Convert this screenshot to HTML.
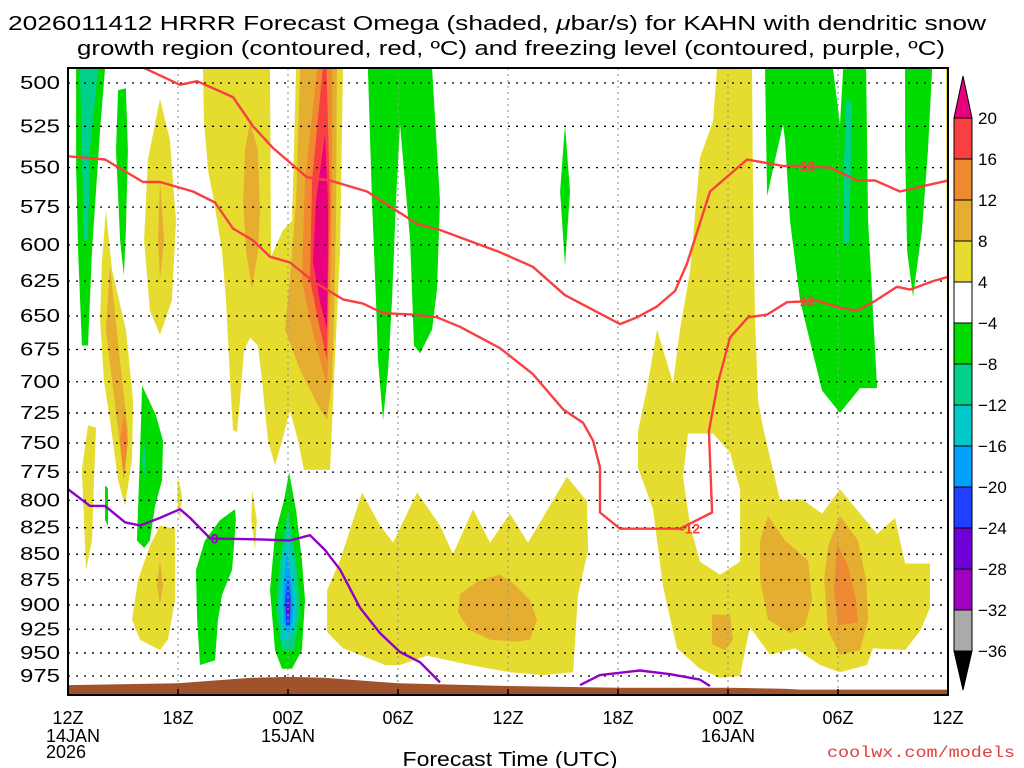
<!DOCTYPE html>
<html><head><meta charset="utf-8"><style>
html,body{margin:0;padding:0;background:#fff;}
svg{display:block;font-family:"Liberation Sans",sans-serif;}
</style></head><body>
<svg id="chart" width="1024" height="768" viewBox="0 0 1024 768" xmlns="http://www.w3.org/2000/svg">
<defs><clipPath id="plotclip"><rect x="68" y="68" width="880" height="627"/></clipPath></defs>
<g>
<text x="8" y="30" font-size="20" textLength="978" lengthAdjust="spacingAndGlyphs">2026011412 HRRR Forecast Omega (shaded, <tspan font-style="italic">μ</tspan>bar/s) for KAHN with dendritic snow</text>
<text x="77" y="55" font-size="20" textLength="868" lengthAdjust="spacingAndGlyphs">growth region (contoured, red, ºC) and freezing level (contoured, purple, ºC)</text>
</g>
<rect x="68" y="68" width="880" height="627" fill="#fff"/>
<g id="shading" clip-path="url(#plotclip)"></g>
<g id="grid"></g>
<g id="lines" clip-path="url(#plotclip)"></g>
<g id="ground" clip-path="url(#plotclip)"></g>
<rect x="68" y="68" width="880" height="627" fill="none" stroke="#000" stroke-width="2"/>
<g id="yaxis"></g>
<g id="xaxis"></g>
<text x="510" y="766" font-size="20" text-anchor="middle" textLength="215" lengthAdjust="spacingAndGlyphs">Forecast Time (UTC)</text>
<text x="827" y="757" font-size="16" fill="#e04040" textLength="188" lengthAdjust="spacingAndGlyphs" font-family="Liberation Mono, monospace">coolwx.com/models</text>
<g id="cbar"></g>
</svg>
<script>
const NS='http://www.w3.org/2000/svg';
// ---- data ----
const yLevels=[500,525,550,575,600,625,650,675,700,725,750,775,800,825,850,875,900,925,950,975];
const xTickHours=[0,6,12,18,24,30,36,42,48];
const xTickLabels=['12Z','18Z','00Z','06Z','12Z','18Z','00Z','06Z','12Z'];
const dateLabels=[[0,'14JAN'],[12,'15JAN'],[36,'16JAN']];
const cbarLevels=['20','16','12','8','4','-4','-8','-12','-16','-20','-24','-28','-32','-36'];
const cbarColors=['#f84040','#f08a30','#e6ae30','#e6dc30','#ffffff','#00dc00','#00d08a','#00c8c8','#00a0ff','#2040ff','#7000d8','#a000c0','#aaaaaa'];
const COL={Y:'#e6dc30',T:'#e6ae30',O:'#f08a30',R:'#f84040',M:'#e8007f',G:'#00dc00',TG:'#00d08a',C:'#00c8c8',LB:'#00a0ff',B:'#2040ff',P:'#7000d8',W:'#ffffff'};
// shaded omega regions: [colour class, [[hour, hPa], ...]]
const shadedRegions=[
 ['Y',[[7.36,492],[11.02,492],[11.07,608],[11.73,590],[12.22,584],[12.44,492],[15,492],[14.84,604],[14.56,683],[14.29,773],[12.87,773],[12.55,748],[12.11,723],[11.67,748],[11.29,769],[10.91,748],[10.58,699],[10.36,672],[9.93,666],[9.6,676],[9.38,715],[9.22,741],[9,739],[8.84,699],[8.62,639],[8.4,604],[7.96,571],[7.64,552],[7.42,522]]],
 ['Y',[[5.02,509],[5.56,533],[5.89,584],[5.67,639],[5.02,664],[4.47,646],[4.15,597],[4.36,545]]],
 ['Y',[[2.07,577],[2.4,617],[3.16,660],[3.55,715],[3.49,764],[3.11,805],[2.73,782],[2.29,731],[1.96,699],[1.75,653],[1.85,612]]],
 ['Y',[[1.09,735],[1.53,737],[1.42,782],[1.31,837],[0.98,865],[0.87,818],[0.76,773]]],
 ['Y',[[5.02,823],[5.84,826],[5.84,895],[5.45,936],[5.02,947],[3.93,936],[3.49,915],[3.82,875],[4.47,842]]],
 ['Y',[[6,779],[6.22,796],[6.11,818],[5.95,800]]],
 ['Y',[[10.04,791],[10.3,818],[10.2,846],[10.0,818]]],
 ['Y',[[14.13,885],[14.84,856],[16.04,793],[17.02,823],[17.73,839],[19.04,793],[20.29,823],[21,850],[22.09,808],[23.02,839],[24.11,812],[25.09,839],[27.22,779],[28.31,801],[28.37,846],[27.82,890],[27.55,971],[25.91,974],[24.11,971],[21.93,963],[19.58,953],[18.11,963],[17.29,963],[15,945],[14.13,928]]],
 ['Y',[[35.4,492],[37.31,492],[37.37,571],[37.48,653],[37.64,715],[37.91,737],[38.84,800],[40.04,799],[41.13,812],[42.11,790],[44.13,831],[45.11,816],[45.66,859],[47.02,859],[47.02,903],[46.47,927],[45.66,947],[43.91,945],[43.58,963],[42.11,971],[41.02,963],[39.66,945],[38.29,952],[37.2,923],[36.93,947],[36.66,975],[35.56,977],[34.47,967],[33.22,945],[32.46,882],[31.91,808],[31.09,771],[31.09,740],[31.58,705],[32.13,660],[33,701],[33.38,660],[33.93,618],[34.47,544],[35.18,522]]],
 ['W',[[33.82,742],[35.18,742],[36.11,758],[36.66,790],[36.66,857],[35.56,870],[34.47,857],[33.93,823],[33.55,779]]],
 ['Y',[[47.89,492],[48.1,492],[48.1,653],[47.95,676]]],
 ['T',[[9.93,522],[10.36,539],[10.47,577],[10.36,604],[10.04,631],[9.71,604],[9.55,571],[9.66,539]]],
 ['T',[[5.02,558],[5.24,597],[5.02,624],[4.91,597]]],
 ['T',[[2.29,614],[2.95,699],[3.27,739],[3.05,782],[2.73,739],[2.4,699],[2.07,660]]],
 ['T',[[5.02,856],[5.18,880],[5.02,900],[4.85,880]]],
 ['T',[[12.66,492],[14.67,492],[14.62,584],[14.51,653],[14.4,699],[14.13,731],[13.64,719],[12.66,691],[11.84,660],[12.11,622],[12.44,571]]],
 ['T',[[21.38,889],[22.47,875],[23.57,870],[24.38,880],[25.2,895],[25.58,915],[25.2,936],[24.38,938],[23.02,936],[21.93,926],[21.27,908]]],
 ['T',[[35.13,910],[36.11,910],[36.28,936],[35.84,947],[35.13,941]]],
 ['T',[[38.18,814],[39.11,837],[40.37,856],[40.58,895],[40.2,921],[39.38,929],[38.18,915],[37.75,875],[37.75,837]]],
 ['T',[[42.11,814],[43.09,837],[43.53,875],[43.64,915],[43.2,947],[42.11,952],[41.46,926],[41.24,875],[41.46,842]]],
 ['O',[[3.05,725],[3.27,748],[3.05,782],[2.84,748]]],
 ['O',[[13.6,492],[14.4,492],[14.4,571],[14.29,639],[14.13,703],[13.75,683],[13.2,653],[12.76,624],[12.93,558]]],
 ['O',[[41.95,840],[42.55,861],[42.98,895],[43.09,918],[42,921],[41.78,885]]],
 ['R',[[13.9,492],[14.1,492],[14.29,571],[14.18,631],[14.13,683],[13.64,653],[13.2,624],[13.31,558]]],
 ['M',[[14.02,530],[14.18,571],[14.18,597],[14.13,660],[13.75,640],[13.36,611],[13.53,571]]],
 ['G',[[0.44,492],[2.02,492],[1.75,527],[1.31,604],[1.09,672],[0.76,672],[0.55,604],[0.44,549]]],
 ['TG',[[0.65,492],[1.64,492],[1.2,539],[1.09,597],[0.87,597],[0.76,539]]],
 ['G',[[2.73,504],[3.16,503],[3.27,539],[3.16,590],[3.05,621],[2.84,597],[2.62,539]]],
 ['G',[[4.04,703],[4.8,727],[5.18,748],[5.13,782],[4.75,805],[4.47,837],[4.15,844],[3.76,837],[3.93,756]]],
 ['TG',[[4.15,748],[4.25,764],[4.15,782],[4.04,764]]],
 ['G',[[2.02,787],[2.18,789],[2.18,823],[2.02,818]]],
 ['G',[[16.36,492],[19.86,492],[20.29,571],[20.13,631],[19.86,660],[19.2,678],[18.87,672],[18.66,597],[18.11,524],[17.89,571],[17.67,639],[17.46,691],[17.18,731],[16.91,683],[16.8,639],[16.58,571]]],
 ['G',[[9.11,808],[9.16,818],[8.95,865],[8.4,890],[8.18,915],[8.02,958],[7.2,963],[7.04,915],[6.98,865],[7.47,837],[8.29,818]]],
 ['G',[[12.06,775],[12.44,809],[12.76,856],[12.93,895],[12.76,947],[12.22,967],[11.67,967],[11.29,947],[11.02,885],[11.29,831],[11.78,800]]],
 ['TG',[[12,809],[12.44,856],[12.66,905],[12.33,947],[11.67,947],[11.35,905],[11.56,856]]],
 ['C',[[12,826],[12.33,865],[12.44,915],[12.11,936],[11.67,936],[11.56,895],[11.73,856]]],
 ['LB',[[11.95,846],[12.22,885],[12.27,915],[12,931],[11.73,915],[11.78,875]]],
 ['B',[[12,870],[12.16,895],[12.11,921],[11.89,921],[11.84,895]]],
 ['P',[[12,894],[12.11,905],[12,914],[11.89,905]]],
 ['G',[[27.11,524],[27.38,565],[27.11,614],[26.84,565]]],
 ['G',[[38.02,492],[41.73,492],[42.11,524],[42.28,492],[43.53,492],[43.64,584],[44.13,705],[43.2,705],[42.11,725],[41.13,707],[39.93,639],[39.38,584],[39.11,533],[39,524],[38.57,545],[38.13,568]]],
 ['TG',[[42.44,510],[42.77,510],[42.71,544],[42.6,599],[42.28,599],[42.33,544]]],
 ['G',[[45.66,492],[47.13,492],[46.91,539],[46.58,590],[46.09,636],[45.77,604],[45.66,539]]]
];
// contour lines
const dgzTopHours=[3.82,6.11,7.04,9,10.09,11.18,13.04,14.29,16.31,19.04,20.29,23.57,25.36,27.11,30.11,31.04,32.13,33.11,33.76,35.02,37.04,39,40.2,41.56,43.04,44.02,45.38,46.47,48];
const dgzTopHpa=[490,501,499,508,525,538,556,558,565,586,590,605,615,635,656,651,643,632,613,565,545,549,549,550,558,558,565,562,558];
const dgzBotHours=[0,2.02,4.09,5.02,6.82,8.02,9,10.09,11.02,12.11,13.36,15,16.09,17.18,18.82,20.13,21.38,23.57,25.36,27,28.09,28.64,29.02,29.02,30.11,33.38,35.13,34.96,35.45,36.11,37.09,38.13,39.22,40.86,42.11,43.04,43.91,45.22,45.93,47.18,48];
const dgzBotHpa=[543,545,559,559,565,572,589,597,608,612,625,638,641,648,649,651,658,674,694,722,733,748,771,811,826,826,811,740,701,666,651,649,640,639,644,646,640,629,631,625,622];
const frzHours=[0,1.2,2.02,3.11,3.93,5.02,6.11,6.66,7.75,10.47,12.11,13.2,14.02,14.84,15.93,17.02,18.11,19.2,20.29];
const frzHpa=[790,805,805,820,823,816,808,816,835,836,837,832,846,865,903,929,949,960,982];
const frz2Hours=[27.93,29.02,31.2,32.84,34.47,35.02];
const frz2Hpa=[985,974,969,973,979,986];
const groundHours=[0,6,10,12,14,18,24,30,36,39,40,48];
const groundHpa=[985,983,977,976,977,983,986,988,988,989,990,990];
const contourLabels=[['-18',40.2,549,'#f84040'],['-12',33.93,826,'#f84040'],['-12',40.2,639,'#f84040'],['0',8.0,835,'#9000c8']];
// ---- axes (log-pressure vertical) ----
const X=h=>68+h*110/6;
const Y=p=>83+Math.log(p/500)/Math.log(975/500)*593;
function mk(tag,attrs,parent){const e=document.createElementNS(NS,tag);for(const k in attrs)e.setAttribute(k,attrs[k]);parent.appendChild(e);return e;}
const shading=document.getElementById('shading');
shadedRegions.forEach((r,i)=>{
 const e=mk('polygon',{points:r[1].map(q=>X(q[0]).toFixed(1)+','+Y(q[1]).toFixed(1)).join(' '),fill:COL[r[0]]},shading);
 
 
});
const grid=document.getElementById('grid');
yLevels.forEach(p=>{
 const e=mk('line',{x1:68,x2:948,y1:Y(p),y2:Y(p),stroke:'#000','stroke-width':1.3,'stroke-dasharray':'2 6'},grid);
 
 
});
xTickHours.slice(1,-1).forEach(h=>{
 const e=mk('line',{x1:X(h),x2:X(h),y1:68,y2:695,stroke:'#999','stroke-width':1.2,'stroke-dasharray':'2 4'},grid);
 
 
});
const lines=document.getElementById('lines');
function poly(hs,ps,color,name){
 const e=mk('polyline',{points:hs.map((h,i)=>X(h).toFixed(1)+','+Y(ps[i]).toFixed(1)).join(' '),fill:'none',stroke:color,'stroke-width':2.4,'stroke-linejoin':'round'},lines);
 
 
}
poly(dgzTopHours,dgzTopHpa,'#f84040','dgz-minus18-contour');
poly(dgzBotHours,dgzBotHpa,'#f84040','dgz-minus12-contour');
poly(frzHours,frzHpa,'#9000c8','freezing-level-contour');
poly(frz2Hours,frz2Hpa,'#9000c8','freezing-level-contour-2');
contourLabels.forEach(l=>{
 const t=mk('text',{x:X(l[1]),y:Y(l[2])+5,'font-size':14,'font-weight':'bold',fill:l[3],'text-anchor':'middle'},lines);
 t.textContent=l[0];
 
 
});
const ground=document.getElementById('ground');
const gpts=groundHours.map((h,i)=>X(h).toFixed(1)+','+Y(groundHpa[i]).toFixed(1));
const ge=mk('polygon',{points:gpts.join(' ')+' 948,700 68,700',fill:'#a0522d'},ground);


const ya=document.getElementById('yaxis');
yLevels.forEach(p=>{
 const t=mk('text',{x:60,y:Y(p)+6,'font-size':18,'text-anchor':'end',textLength:40,lengthAdjust:'spacingAndGlyphs'},ya);
 t.textContent=p;
 
 
});
const xa=document.getElementById('xaxis');
xTickHours.forEach((h,i)=>{
 const t=mk('text',{x:X(h),y:724,'font-size':18,'text-anchor':'middle'},xa);
 t.textContent=xTickLabels[i];
 
 
 const tk=mk('line',{x1:X(h),x2:X(h),y1:689,y2:695,stroke:'#000','stroke-width':1.5},xa);
 
 
});
dateLabels.forEach(d=>{
 const t=mk('text',{x:X(d[0])+(d[0]===0?-22:0),y:742,'font-size':18,'text-anchor':d[0]===0?'start':'middle'},xa);
 t.textContent=d[1];
 
 
});
const yr=mk('text',{x:46,y:758,'font-size':18},xa);
yr.textContent='2026';


// colorbar
const cb=document.getElementById('cbar');
const cbX=954,cbW=18,cbTop=118,cbH=41;
const tri1=mk('polygon',{points:`${cbX},${cbTop} ${cbX+cbW},${cbTop} ${cbX+cbW/2},76`,fill:'#e8007f',stroke:'#000'},cb);


cbarColors.forEach((c,i)=>{
 const r=mk('rect',{x:cbX,y:cbTop+i*cbH,width:cbW,height:cbH,fill:c,stroke:'#000','stroke-width':1},cb);
 
 
});
const bot=cbTop+cbarColors.length*cbH;
const tri2=mk('polygon',{points:`${cbX},${bot} ${cbX+cbW},${bot} ${cbX+cbW/2},690`,fill:'#000',stroke:'#000'},cb);


cbarLevels.forEach((l,i)=>{
 const t=mk('text',{x:978,y:cbTop+i*cbH+6,'font-size':17},cb);
 t.textContent=l.replace('-','\u2212');
 
 
});
</script>
</body></html>
